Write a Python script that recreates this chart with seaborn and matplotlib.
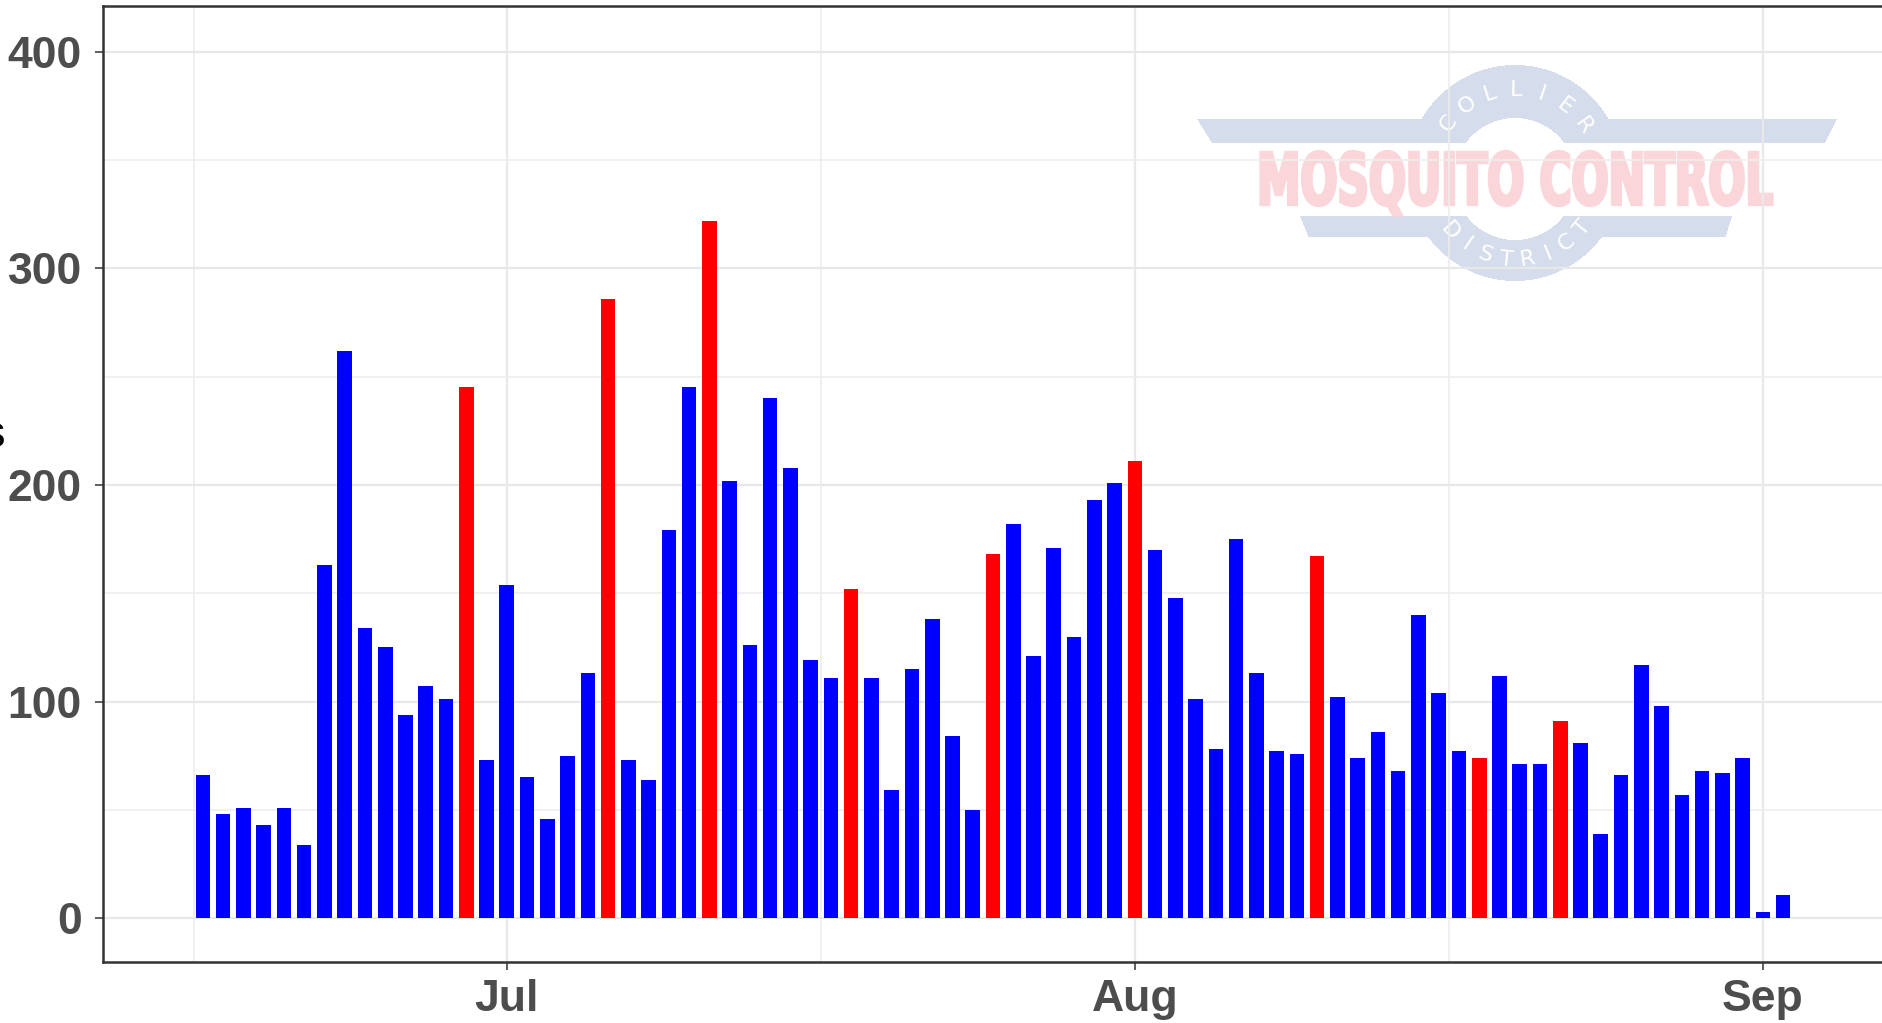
import numpy as np
import pandas as pd
import matplotlib
matplotlib.use("Agg")
import matplotlib.pyplot as plt
import matplotlib.dates as mdates
from matplotlib.ticker import FixedLocator
from matplotlib.textpath import TextPath
from matplotlib.patches import PathPatch
from matplotlib.font_manager import FontProperties
from matplotlib.transforms import Affine2D
import seaborn as sns

# === Data === #
first_day = "2021-06-16"
last_day = "2021-09-02"
counts = [66, 48, 51, 43, 51, 34, 163, 262, 134, 125, 94, 107, 101, 245, 73,
          154, 65, 46, 75, 113, 286, 73, 64, 179, 245, 322, 202, 126, 240, 208,
          119, 111, 152, 111, 59, 115, 138, 84, 50, 168, 182, 121, 171, 130, 193,
          201, 211, 170, 148, 101, 78, 175, 113, 77, 76, 167, 102, 74, 86, 68,
          140, 104, 77, 74, 112, 71, 71, 91, 81, 39, 66, 117, 98, 57, 68,
          67, 74, 3, 11]
red_days = ["2021-06-29", "2021-07-06", "2021-07-11", "2021-07-18", "2021-07-25",
            "2021-08-01", "2021-08-10", "2021-08-18", "2021-08-22"]
y_ticks = [0, 100, 200, 300, 400]
y_label = "Mosquitoes"

days = pd.date_range(first_day, last_day, freq="D")
df = pd.DataFrame({"date": mdates.date2num(days), "count": counts})
df["kind"] = np.where(days.isin(pd.to_datetime(red_days)), "flagged", "normal")

# === Figure === #
W, H = 1883, 1023
fig = plt.figure(figsize=(W / 100, H / 100), dpi=100, facecolor="white")

# watermark sits under the panel so the grid shows through it
ov = fig.add_axes([0, 0, 1, 1], zorder=0)
ov.axis("off")

ax = fig.add_axes([103 / W, 1 - 961.7 / H, 1 - 103 / W, (961.7 - 6) / H], zorder=1)
ax.patch.set_alpha(0)

sns.barplot(data=df, x="date", y="count", hue="kind",
            palette={"normal": "#0000FF", "flagged": "#FF0000"},
            native_scale=True, dodge=False, width=0.72, saturation=1,
            errorbar=None, legend=False, linewidth=0, ax=ax)

x_left = mdates.date2num(pd.Timestamp("2021-07-01")) - 19.93
x_right = mdates.date2num(pd.Timestamp("2021-09-01")) + 5.93
ax.set_xlim(x_left, x_right)
ax.set_ylim(-20, 421)

ax.xaxis.set_major_locator(mdates.MonthLocator())
ax.xaxis.set_major_formatter(mdates.DateFormatter("%b"))
minor_x = pd.to_datetime(["2021-06-15 14:00", "2021-07-16 12:00", "2021-08-16 12:00"])
ax.xaxis.set_minor_locator(FixedLocator(mdates.date2num(minor_x)))
ax.set_yticks(y_ticks)
ax.yaxis.set_minor_locator(FixedLocator([50, 150, 250, 350]))

ax.grid(which="major", color="#E8E8E8", linewidth=1.6, zorder=0)
ax.grid(which="minor", color="#EDEDED", linewidth=1.2, zorder=0)
ax.set_axisbelow(True)
for side in ["left", "top", "bottom"]:
    ax.spines[side].set_color("#333333")
    ax.spines[side].set_linewidth(1.8)
ax.spines["right"].set_visible(False)

ax.tick_params(which="major", length=5.8, width=1.1, color="#333333",
               labelsize=32, labelcolor="#4D4D4D")
ax.tick_params(axis="y", pad=9.5)
ax.tick_params(axis="x", pad=7)
ax.tick_params(which="minor", length=0)
for lab in ax.get_xticklabels() + ax.get_yticklabels():
    lab.set_fontweight("bold")
    lab.set_family("Liberation Sans")
ax.set_xlabel("")
ax.set_ylabel("")

# axis title is cropped in the source, only its last letter shows at the left edge
fig.text(6 / W, 1 - 447 / H, y_label, ha="right", va="baseline",
         fontsize=32, color="black", family="Liberation Sans")

# === Watermark logo (pixel coordinates) === #
xs = np.arange(1190, 1845) + 0.5
ys = np.arange(55, 290) + 0.5
X, Y = np.meshgrid(xs, ys)
outer = (X - 1515) ** 2 + (Y - 173) ** 2 <= 108 ** 2
hole = (X - 1515) ** 2 + (Y - 179) ** 2 <= 61 ** 2
upper = ((Y >= 119) & (Y <= 143) & (X >= 1197 + (Y - 119) / 24 * 15)
         & (X <= 1837 - (Y - 119) / 24 * 12))
lower = ((Y >= 216) & (Y <= 237) & (X >= 1300 + (Y - 216) / 21 * 8.5)
         & (X <= 1732 - (Y - 216) / 21 * 6.4))
strip = (Y > 143) & (Y < 216)
mask = (outer | upper | lower) & ~hole & ~strip
img = np.ones(mask.shape + (4,))
img[..., 0], img[..., 1], img[..., 2] = 213 / 255, 220 / 255, 235 / 255
img[..., 3] = np.where(mask, 1.0, 0.0)
ov.imshow(img, extent=(1190, 1845, 290, 55), aspect="auto",
          interpolation="nearest", zorder=1)

tp = TextPath((0, 0), "MOSQUITO CONTROL", size=100,
              prop=FontProperties(family="DejaVu Sans", weight="bold"))
ext = tp.get_extents()
sx = (1772 - 1261) / ext.width
sy = 53 / ext.y1
path = Affine2D().translate(-ext.x0, 0).scale(sx, -sy).translate(1261, 204.5).transform_path(tp)
ov.add_patch(PathPatch(path, facecolor="#FAD6DA", edgecolor="#FAD6DA",
                       linewidth=2.4, joinstyle="miter", zorder=2))

for i, ch in enumerate("COLLIER"):
    th = np.radians(143.5 - i * 18.1)
    ov.text(1515 + 83 * np.cos(th), 173 - 83 * np.sin(th), ch,
            rotation=np.degrees(th) - 90, rotation_mode="anchor",
            ha="center", va="center", color="white", fontsize=16,
            family="DejaVu Sans", zorder=3)
for i, ch in enumerate("DISTRICT"):
    th = np.radians(-138 + i * 14.1)
    ov.text(1515 + 87 * np.cos(th), 173 - 87 * np.sin(th), ch,
            rotation=np.degrees(th) + 90, rotation_mode="anchor",
            ha="center", va="center", color="white", fontsize=16,
            family="DejaVu Sans", zorder=3)

ov.set_xlim(0, W)
ov.set_ylim(H, 0)

fig.savefig("out.png", dpi=100, facecolor="white")
